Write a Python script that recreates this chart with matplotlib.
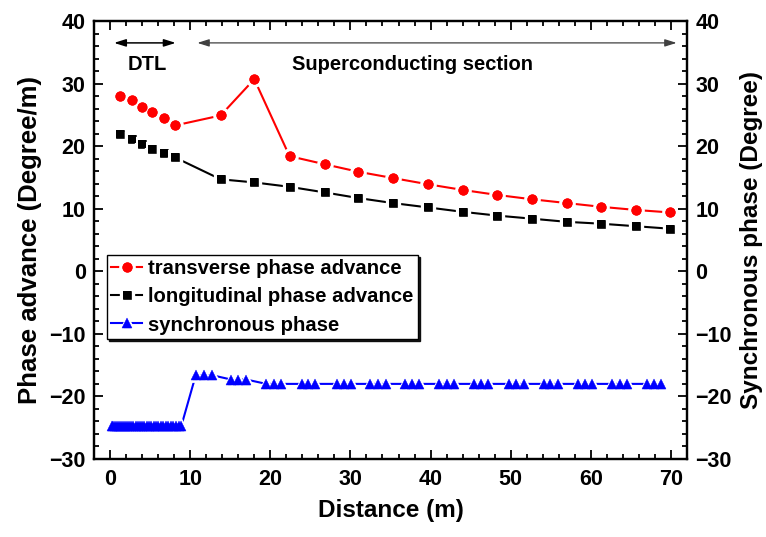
import matplotlib
matplotlib.use('Agg')
import matplotlib.pyplot as plt
from matplotlib.ticker import MultipleLocator
from matplotlib.legend_handler import HandlerTuple

plt.rcParams['font.family'] = ['Liberation Sans', 'DejaVu Sans']
plt.rcParams['font.weight'] = 'bold'
plt.rcParams['axes.labelweight'] = 'bold'

# phase advance (left axis), one point per period
x_adv = [1.3, 2.7, 4.0, 5.3, 6.7, 8.1,
         13.8, 18.0, 22.4, 26.8, 31.0, 35.3, 39.7, 44.0, 48.3, 52.7, 57.0, 61.3, 65.6, 69.9]
y_trans = [28.0, 27.4, 26.3, 25.5, 24.5, 23.3,
           24.9, 30.7, 18.4, 17.1, 15.9, 14.9, 13.9, 13.0, 12.2, 11.5, 10.9, 10.3, 9.8, 9.4]
y_long = [21.9, 21.1, 20.3, 19.6, 18.9, 18.2,
          14.7, 14.2, 13.5, 12.6, 11.7, 10.9, 10.2, 9.5, 8.9, 8.4, 7.9, 7.6, 7.2, 6.8]

# synchronous phase (right axis), one point per cell / cavity
x_dtl = [0.20, 0.43, 0.66, 0.90, 1.14, 1.38, 1.63, 1.88, 2.13, 2.39, 2.65,
         2.91, 3.18, 3.45, 3.72, 4.00, 4.28, 4.56, 4.85, 5.14, 5.43, 5.73,
         6.03, 6.33, 6.64, 6.95, 7.26, 7.58, 7.90, 8.22, 8.55, 8.88]
y_dtl = [-24.8] * len(x_dtl)
x_sc = [10.7, 11.7, 12.7, 15.1, 16.0, 17.0, 19.5, 20.4, 21.3, 23.9, 24.7, 25.6,
        28.3, 29.2, 30.1, 32.5, 33.4, 34.4, 36.8, 37.7, 38.6, 41.1, 42.0, 42.9,
        45.4, 46.3, 47.2, 49.8, 50.7, 51.6, 54.1, 54.9, 55.9, 58.4, 59.3, 60.2,
        62.7, 63.6, 64.5, 67.0, 67.9, 68.8]
y_sc = [-16.6] * 3 + [-17.3] * 3 + [-18.0] * 36
x_sync = x_dtl + x_sc
y_sync = y_dtl + y_sc

labels = ['transverse phase advance', 'longitudinal phase advance', 'synchronous phase']

fig = plt.figure(figsize=(7.66, 5.37), dpi=100)
ax = fig.add_axes([0.1227, 0.1453, 0.7742, 0.8156])
ax2 = ax.twinx()

# line with white ring = gap between line and symbol, then symbols on top
l1, = ax.plot(x_adv, y_trans, '-o', color='red', lw=1.5, ms=9.6, mec='white', mew=2.4)
m1, = ax.plot(x_adv, y_trans, 'o', color='red', ms=7.4, mew=0)
l2, = ax.plot(x_adv, y_long, '-s', color='black', lw=1.5, ms=8.4, mec='white', mew=2.4)
m2, = ax.plot(x_adv, y_long, 's', color='black', ms=6.0, mew=0)
l3, = ax2.plot(x_sync, y_sync, '-^', color='blue', lw=1.5, ms=9.0, mec='white', mew=2.0)
m3, = ax2.plot(x_sync, y_sync, '^', color='blue', ms=7.6, mew=0.3)

for a in (ax, ax2):
    a.set_xlim(-2, 72)
    a.set_ylim(-30, 40)
    a.yaxis.set_major_locator(MultipleLocator(10))
    a.yaxis.set_minor_locator(MultipleLocator(2))
    a.tick_params(which='both', direction='in', width=1.3, labelsize=15.5, pad=6)
    a.tick_params(which='major', length=6.5)
    a.tick_params(which='minor', length=3.3)
    for s in a.spines.values():
        s.set_linewidth(1.6)

ax.xaxis.set_major_locator(MultipleLocator(10))
ax.xaxis.set_minor_locator(MultipleLocator(2))
ax.tick_params(which='both', top=True, right=False)
ax.tick_params(axis='x', pad=7)

ax.set_xlabel('Distance (m)', fontsize=17.5, labelpad=7)
ax.set_ylabel('Phase advance (Degree/m)', fontsize=18.5, labelpad=5)
ax2.set_ylabel('Synchronous phase (Degree)', fontsize=17.5, labelpad=6)

# section arrows
ax.annotate('', xy=(0.5, 36.5), xytext=(8.2, 36.5),
            arrowprops=dict(arrowstyle='<|-|>,head_length=0.7,head_width=0.22',
                            color='black', lw=1.1, shrinkA=0, shrinkB=0))
ax.annotate('', xy=(10.9, 36.5), xytext=(70.7, 36.5),
            arrowprops=dict(arrowstyle='<|-|>,head_length=0.7,head_width=0.22',
                            color='#404040', lw=0.9, shrinkA=0, shrinkB=0))
ax.text(4.7, 33.0, 'DTL', fontsize=14.5, ha='center', va='center')
ax.text(37.8, 33.0, 'Superconducting section', fontsize=14.5, ha='center', va='center')

leg = ax2.legend([(l1, m1), (l2, m2), (l3, m3)], labels,
                 handler_map={tuple: HandlerTuple(ndivide=1)},
                 loc='upper left', bbox_to_anchor=(0.022, 0.466), borderaxespad=0,
                 fontsize=14.6, fancybox=False, framealpha=1, edgecolor='black',
                 shadow={'color': 'black', 'alpha': 0.9, 'ox': 1.6, 'oy': -1.6},
                 handlelength=1.5, handletextpad=0.3, labelspacing=0.45,
                 borderpad=0.22)
leg.get_frame().set_linewidth(1.0)

fig.savefig('out.png', dpi=100)
